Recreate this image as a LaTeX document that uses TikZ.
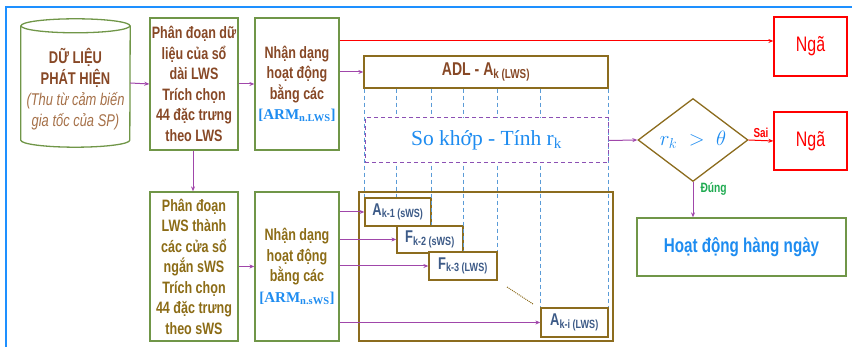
\documentclass[tikz,border=0pt]{standalone}
\usepackage{fontspec}
\setmainfont{Liberation Serif}
\newfontfamily\condfont[FakeStretch=0.76]{Liberation Sans}
\usetikzlibrary{shapes.geometric,arrows.meta}

\definecolor{boxgreen}{RGB}{112,150,72}
\definecolor{boxbrown}{RGB}{140,108,30}
\definecolor{txtbrown}{RGB}{135,72,38}
\definecolor{italbrown}{RGB}{165,112,72}
\definecolor{txtolive}{RGB}{140,108,22}
\definecolor{txtblue}{RGB}{30,140,240}
\definecolor{subblue}{RGB}{60,90,135}
\definecolor{arrpurple}{RGB}{160,70,170}
\definecolor{dashblue}{RGB}{90,155,215}
\definecolor{matchpurple}{RGB}{140,80,180}
\definecolor{okgreen}{RGB}{30,170,80}
\definecolor{frameblue}{RGB}{30,144,255}

\newcommand{\armtag}[1]{\textcolor{txtblue}{\rmfamily\bfseries\fontsize{15}{17}\selectfont[ARM\textsubscript{#1}]}}

\begin{document}
\begin{tikzpicture}[x=1pt,y=1pt,
    procbox/.style={draw=boxgreen, line width=1.3pt, align=center, inner sep=0pt,
      font=\condfont\bfseries\fontsize{16.5}{20.5}\selectfont},
    adlbox/.style={draw=boxbrown, line width=1.3pt, inner sep=0pt},
    subbox/.style={adlbox, fill=white, text=subblue,
      font=\condfont\bfseries\fontsize{17}{19}\selectfont},
    fallbox/.style={draw=red, line width=1.3pt, text=red,
      font=\condfont\fontsize{21}{23}\selectfont},
    flow/.style={draw=arrpurple, line width=1pt, -{Stealth[length=5pt,width=4pt]}},
    vdash/.style={draw=dashblue, line width=0.9pt, dash pattern=on 4pt off 3pt}]
  \useasboundingbox (0,0) rectangle (852,347);
  \draw[frameblue, line width=1.8pt] (6,0) -- (6,340) -- (852,340);

  % first row
  \node[minimum width=109, minimum height=128, inner sep=0pt] (data) at (75.5,264) {};
  \draw[boxgreen, line width=1.3pt] ([yshift=-7pt]data.north) ellipse [x radius=54.5, y radius=7];
  \draw[boxgreen, line width=1.3pt] ([yshift=-7pt]data.north west) -- ([yshift=7pt]data.south west)
    arc[start angle=180, end angle=360, x radius=54.5, y radius=7] -- ([yshift=-7pt]data.north east);
  \node[align=center, font=\condfont\bfseries\fontsize{17}{21}\selectfont, text=txtbrown] (datatext)
    at ([yshift=-6pt]data.center)
    {DỮ LIỆU\\PHÁT HIỆN\\\textcolor{italbrown}{\mdseries\itshape (Thu từ cảm biến}\\\textcolor{italbrown}{\mdseries\itshape gia tốc của SP)}};
  \node[procbox, text=txtbrown, minimum width=88, minimum height=132] (segL) at (194,263)
    {Phân đoạn dữ\\liệu của sổ\\dài LWS\\Trích chọn\\44 đặc trưng\\theo LWS};
  \node[procbox, text=txtbrown, minimum width=84, minimum height=132] (recL) at (297,263)
    {Nhận dạng\\hoạt động\\bằng các\\\armtag{n.LWS}};
  \node[fallbox, minimum width=73, minimum height=59] (fall1) at (810.5,300.5) {Ngã};
  \node[adlbox, text=txtbrown, minimum width=244, minimum height=32,
    font=\condfont\bfseries\fontsize{18.5}{20}\selectfont] (adl) at (486,275)
    {ADL - A\textsubscript{k (LWS)}};

  % second row
  \node[procbox, text=txtolive, minimum width=88, minimum height=149] (segS) at (194,80.5)
    {Phân đoạn\\LWS thành\\các cửa sổ\\ngắn sWS\\Trích chọn\\44 đặc trưng\\theo sWS};
  \node[procbox, text=txtolive, minimum width=84, minimum height=149] (recS) at (297,80.5)
    {Nhận dạng\\hoạt động\\bằng các\\\armtag{n.sWS}};
  \node[adlbox, minimum width=254, minimum height=149] (bank) at (486,80.5) {};
  \node[subbox, minimum width=66, minimum height=28] (ak1) at (398,135) {A\textsubscript{k-1 (sWS)}};
  \node[subbox, minimum width=66, minimum height=27] (fk2) at (430,107.5) {F\textsubscript{k-2 (sWS)}};
  \node[subbox, minimum width=68, minimum height=28] (fk3) at (463,81) {F\textsubscript{k-3 (LWS)}};
  \node[subbox, minimum width=67, minimum height=29] (aki) at (574.5,24.5) {A\textsubscript{k-i (LWS)}};
  \draw[boxbrown, densely dotted, line width=1pt] (507,60) -- (533,43);

  % dashed guides, then the matching box on top
  \foreach \u/\v in {ak1.north west/ak1.north west, fk2.west/ak1.north, ak1.east/fk2.north,
      fk2.east/fk3.north, fk3.north east/fk3.north east, aki.north west/aki.north west,
      aki.north east/aki.north east}
    \draw[vdash] (adl.south -| \u) -- (\u |- \v);
  \node[draw=matchpurple, dash pattern=on 4pt off 3pt, line width=1pt, fill=white,
    minimum width=243, minimum height=45, text=txtblue,
    font=\fontsize{21.5}{23}\selectfont] (match) at (486.5,206.5) {So khớp - Tính r\textsubscript{k}};

  % decision
  \node[diamond, draw=boxbrown, line width=1.3pt, aspect=1.33, inner sep=0pt,
    minimum width=110, minimum height=83, text=txtblue,
    font=\fontsize{22}{24}\selectfont] (dia) at (693,207) {$r_k \;>\; \theta$};
  \node[fallbox, minimum width=73, minimum height=58] (fall2) at (810.5,206) {Ngã};
  \node[draw=boxgreen, line width=1.3pt, minimum width=209, minimum height=58, text=txtblue,
    font=\condfont\bfseries\fontsize{20}{22}\selectfont] (daily) at (741.5,100) {Hoạt động hàng ngày};

  % connectors
  \coordinate (redrow) at ([yshift=5.5pt]fall1.west);
  \draw[flow] (data.east) -- (segL.west);
  \draw[flow] (segL.east) -- (recL.west);
  \draw[red, line width=1pt, -{Stealth[length=5pt,width=4pt]}] (redrow -| recL.east) -- (redrow);
  \draw[flow] (recL.east |- adl.west) -- (adl.west);
  \draw[flow] (segL.south -| 193,0) -- (segS.north -| 193,0);
  \draw[flow] (segS.east) -- (recS.west);
  \draw[flow] (recS.east |- ak1.west) -- (ak1.west);
  \draw[flow] (recS.east |- fk2.west) -- (fk2.west);
  \draw[flow] (recS.east |- fk3.west) -- (fk3.west);
  \draw[flow] (recS.east |- aki.west) -- (aki.west);
  \draw[flow] (match.east) -- (dia.west);
  \draw[red, line width=1pt, -{Stealth[length=5pt,width=4pt]}] (dia.east) --
    node[above, inner sep=2pt, text=red, font=\condfont\bfseries\fontsize{13}{15}\selectfont] {Sai} (fall2.west);
  \draw[flow] (dia.south) --
    node[right, pos=0.2, inner sep=7pt, text=okgreen, font=\condfont\bfseries\fontsize{13.5}{15}\selectfont] {Đúng}
    (dia.south |- daily.north);
\end{tikzpicture}
\end{document}
